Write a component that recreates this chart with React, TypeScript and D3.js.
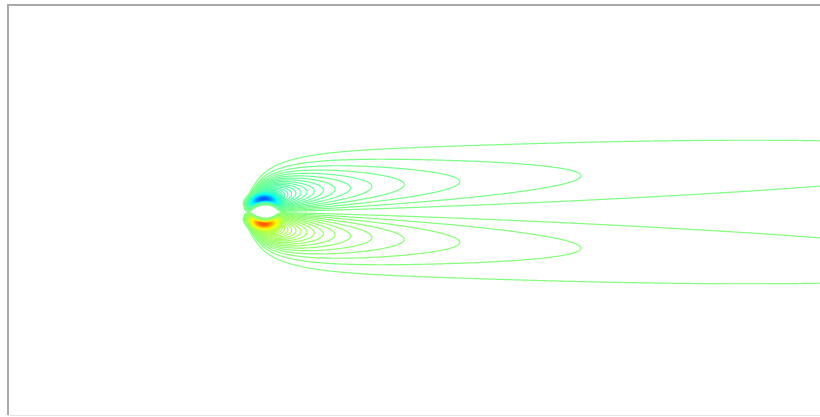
import React, { useEffect, useRef } from 'react';
import * as d3 from 'd3';

const width = 820;
const height = 417;

// plot window border (px)
const frameLeft = 8;
const frameTop = 5;
const frameBottom = 415;

// wake: leading point (px), one data unit in px (x, y)
const wakeOrigin = [244, 212];
const wakeUnit = [18, 11];

// cylinder (px): centre and radii
const cylinderCenter = [265, 211.5];
const cylinderRadius = [16, 12];

// vorticity wake fitted to the loop tips: spread near / far, decay power
const spreadFar = 0.56;
const spreadNear = 0.8;
const spreadLength = 5;
const decayPower = 1.31;
const noseLength = 1;

// boundary layer on the cylinder: strength, forward bias, thickness
const layerStrength = 1.69;
const layerForward = 0.3;
const layerThickness = 0.35;
const interiorPower = 8;

// contour levels and colour range
const levelStep = 0.0215;
const levelCount = 120;
const colourLimit = 170; // in level steps

// levels above wakeLevels only occur close to the cylinder
const wakeLevels = 24;
const nearBox = [215, 150, 340, 275]; // px: x0, y0, x1, y1

// grid reaches past the right edge so the long loops close off-screen
const gridWidth = 1150;

const jet = (t: number) => {
  const c = (v: number) => Math.round(255 * Math.max(0, Math.min(1, v)));
  return `rgb(${c(1.5 - Math.abs(4 * t - 3))},${c(1.5 - Math.abs(4 * t - 2))},${c(1.5 - Math.abs(4 * t - 1))})`;
};

const wake = (X: number, Y: number) => {
  if (X <= 1e-6) return 0;
  const spread = spreadFar + spreadNear * Math.exp(-X / spreadLength);
  const nose = 1 - Math.exp(-(X * X) / (noseLength * noseLength));
  return (-Y * nose * Math.exp(-(Y * Y) / (2 * spread * X))) / Math.pow(X, decayPower);
};

const layer = (ux: number, uy: number, rho: number) => {
  // ux, uy: unit direction from the cylinder centre (y up)
  const d = (rho - 1) / layerThickness;
  return -layerStrength * uy * uy * uy * (1 - layerForward * ux) * Math.exp(-d * d);
};

const App = () => {
  const svgRef = useRef<SVGSVGElement>(null);

  useEffect(() => {
    if (!svgRef.current) return;
    const svg = d3.select(svgRef.current);
    svg.select('.contours').selectAll('*').remove();

    const x = d3.scaleLinear().domain([0, 1]).range([wakeOrigin[0], wakeOrigin[0] + wakeUnit[0]]);
    const y = d3.scaleLinear().domain([0, 1]).range([wakeOrigin[1], wakeOrigin[1] - wakeUnit[1]]);

    const field = (px: number, py: number) => {
      const hx = (px - cylinderCenter[0]) / cylinderRadius[0];
      const hy = (cylinderCenter[1] - py) / cylinderRadius[1];
      const rho = Math.hypot(hx, hy);
      if (rho === 0) return 0;
      const ux = hx / rho;
      const uy = hy / rho;
      if (rho >= 1) return wake(x.invert(px), y.invert(py)) + layer(ux, uy, rho);
      const sx = cylinderCenter[0] + ux * cylinderRadius[0];
      const sy = cylinderCenter[1] - uy * cylinderRadius[1];
      return (wake(x.invert(sx), y.invert(sy)) + layer(ux, uy, 1)) * Math.pow(rho, interiorPower);
    };

    const sample = (x0: number, y0: number, nx: number, ny: number) => {
      const pos = new Array(nx * ny);
      const neg = new Array(nx * ny);
      for (let j = 0; j < ny; j++) {
        for (let i = 0; i < nx; i++) {
          const v = field(x0 + i, y0 + j);
          pos[i + j * nx] = v;
          neg[i + j * nx] = -v;
        }
      }
      return { pos, neg };
    };

    const trace = (x0: number, y0: number, nx: number, ny: number, ks: number[]) => {
      const { pos, neg } = sample(x0, y0, nx, ny);
      const gen = d3.contours().size([nx, ny]).thresholds(ks.map((k) => k * levelStep));
      const path = d3.geoPath(d3.geoIdentity().translate([x0 - 0.5, y0 - 0.5]));
      return [
        ...gen(neg).map((c) => ({ d: path(c), level: -c.value })),
        ...gen(pos).map((c) => ({ d: path(c), level: c.value })),
      ];
    };

    const far = trace(0, 0, gridWidth, height, d3.range(1, wakeLevels + 1));
    const near = trace(
      nearBox[0],
      nearBox[1],
      nearBox[2] - nearBox[0],
      nearBox[3] - nearBox[1],
      d3.range(wakeLevels + 1, levelCount + 1),
    );
    const all = [...far, ...near].sort((a, b) => Math.abs(a.level) - Math.abs(b.level));

    const maxLevel = levelStep * colourLimit;
    const color = d3.scaleLinear().domain([-maxLevel, maxLevel]).range([0, 1]).clamp(true);

    svg.select('.contours')
      .selectAll('path')
      .data(all)
      .join('path')
      .attr('d', (d) => d.d)
      .attr('fill', 'none')
      .attr('stroke', (d) => jet(color(d.level)))
      .attr('stroke-width', 1.2)
      .attr('stroke-linejoin', 'round');
  }, []);

  return (
    <svg
      ref={svgRef}
      width={width}
      height={height}
      style={{ position: 'absolute', left: 0, top: 0, background: '#fff' }}
    >
      <defs>
        <clipPath id="plot-clip">
          <rect x={frameLeft} y={frameTop} width={width - frameLeft} height={frameBottom - frameTop} />
        </clipPath>
      </defs>
      <g className="contours" clipPath="url(#plot-clip)" />
      <line x1={frameLeft - 1} x2={width} y1={frameTop} y2={frameTop} stroke="#a9a9a9" strokeWidth={2} />
      <line x1={frameLeft} x2={frameLeft} y1={frameTop} y2={frameBottom} stroke="#a9a9a9" strokeWidth={2} />
      <line x1={frameLeft} x2={width} y1={frameBottom + 0.5} y2={frameBottom + 0.5} stroke="#e4e4e4" strokeWidth={1} />
    </svg>
  );
};

export default App;
